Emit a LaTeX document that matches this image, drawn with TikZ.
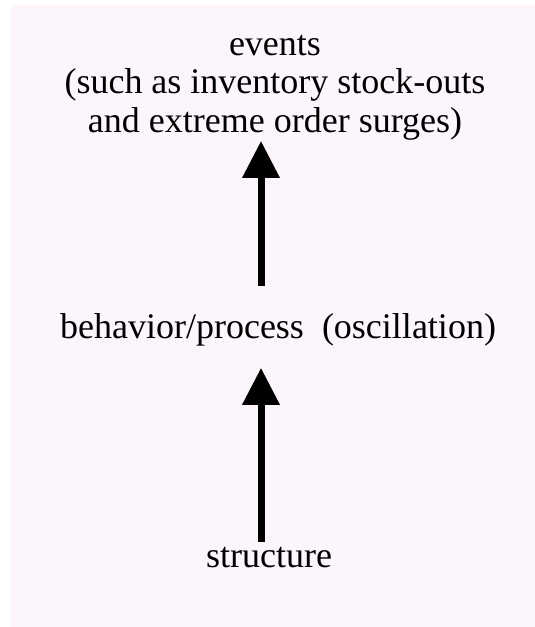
\documentclass[tikz,border=0pt]{standalone}
\usepackage{fontspec}
\setmainfont{Liberation Serif}
\usetikzlibrary{arrows.meta}

\definecolor{paperpink}{RGB}{252,246,252}

\tikzset{
  label text/.style={font=\fontsize{36}{38.5}\selectfont, inner sep=0pt, anchor=base, align=center},
  up arrow/.style={line width=7pt, -{Triangle[width=36pt,length=37pt]}}
}

\begin{document}
\begin{tikzpicture}[x=1pt, y=-1pt]
      \useasboundingbox[fill=white] (0,0) rectangle (535,627);
      \fill[paperpink] (11,5) rectangle (535,627);
      \coordinate (axis) at (261,0);
      % the three levels
      \node[label text] (events) at (275,132)
        {events\\(such as inventory stock-outs\\and extreme order surges)};
      \node[label text] (behavior) at (278,338) {behavior/process\ \ (oscillation)};
      \node[label text] (structure) at (269,567) {structure};
      % arrows upward
      \draw[up arrow, shorten <=27pt, shorten >=1pt] (behavior.north -| axis) -- (events.south -| axis);
      \draw[up arrow, shorten <=5pt, shorten >=22pt] (structure.north -| axis) -- (behavior.south -| axis);
    \end{tikzpicture}
\end{document}
